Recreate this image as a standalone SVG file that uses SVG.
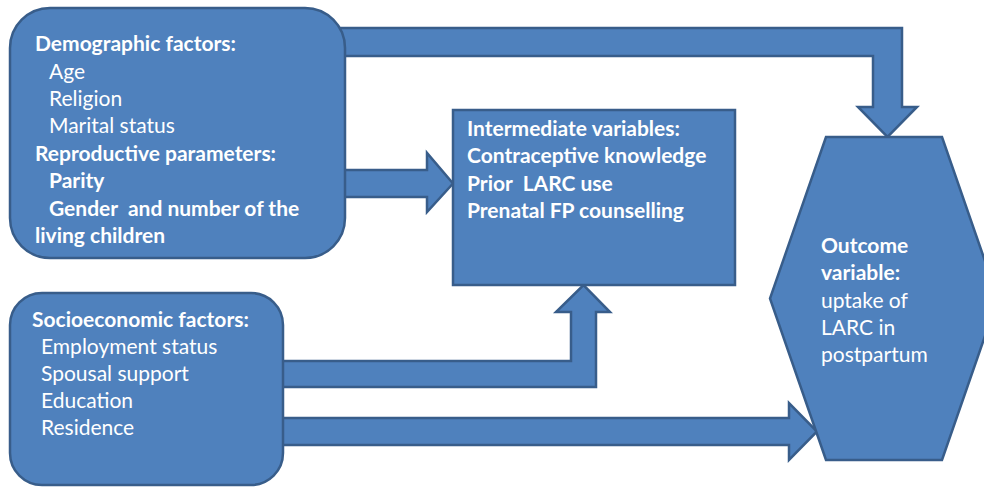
<svg xmlns="http://www.w3.org/2000/svg" width="984" height="487" viewBox="0 0 984 487">
<style>
.shape{fill:#4F81BD;stroke:#385D8A;stroke-width:2.5;stroke-linejoin:miter}
text{font-family:Lato,"Liberation Sans",sans-serif;font-size:21px;fill:#FFFFFF}
.b{font-weight:bold}
</style>
<rect width="984" height="487" fill="#FFFFFF"/>
<g id="connectors">
<polygon class="shape" points="340,28 902,28 902,107 917,107 887.5,137 858,107 873,107 873,56 340,56"/>
<polygon class="shape" points="340,170 427,170 427,153 453,183.5 427,212 427,197 340,197"/>
<polygon class="shape" points="278,361 571,361 571,312 556,312 583.5,285 610,312 596,312 596,387 278,387"/>
<polygon class="shape" points="278,418 789,418 789,403 817,431.5 789,460 789,445 278,445"/>
</g>
<g id="demographic">
<rect class="shape" x="10" y="8" width="335" height="250" rx="40" ry="40"/>
<text class="b" x="35" y="51">Demographic factors:</text>
<text x="49" y="79">Age</text>
<text x="49" y="106">Religion</text>
<text x="49" y="133">Marital status</text>
<text class="b" x="35" y="161">Reproductive parameters:</text>
<text class="b" x="49" y="188">Parity</text>
<text class="b" x="49" y="216" xml:space="preserve">Gender  and number of the</text>
<text class="b" x="35" y="243">living children</text>
</g>
<g id="intermediate">
<rect class="shape" x="453" y="110" width="282" height="175"/>
<text class="b" x="467" y="136">Intermediate variables:</text>
<text class="b" x="467" y="163">Contraceptive knowledge</text>
<text class="b" x="467" y="191" xml:space="preserve">Prior  LARC use</text>
<text class="b" x="467" y="218">Prenatal FP counselling</text>
</g>
<g id="socioeconomic">
<rect class="shape" x="10" y="293" width="273" height="192" rx="32" ry="32"/>
<text class="b" x="32" y="327">Socioeconomic factors:</text>
<text x="41" y="354">Employment status</text>
<text x="41" y="381">Spousal support</text>
<text x="41" y="408">Education</text>
<text x="41" y="435">Residence</text>
</g>
<g id="outcome">
<polygon class="shape" points="826,137 942,137 998,298.5 942,460 826,460 770,298.5"/>
<text class="b" x="821" y="253">Outcome</text>
<text class="b" x="821" y="280">variable:</text>
<text x="821" y="308">uptake of</text>
<text x="821" y="335">LARC in</text>
<text x="821" y="362">postpartum</text>
</g>
</svg>
